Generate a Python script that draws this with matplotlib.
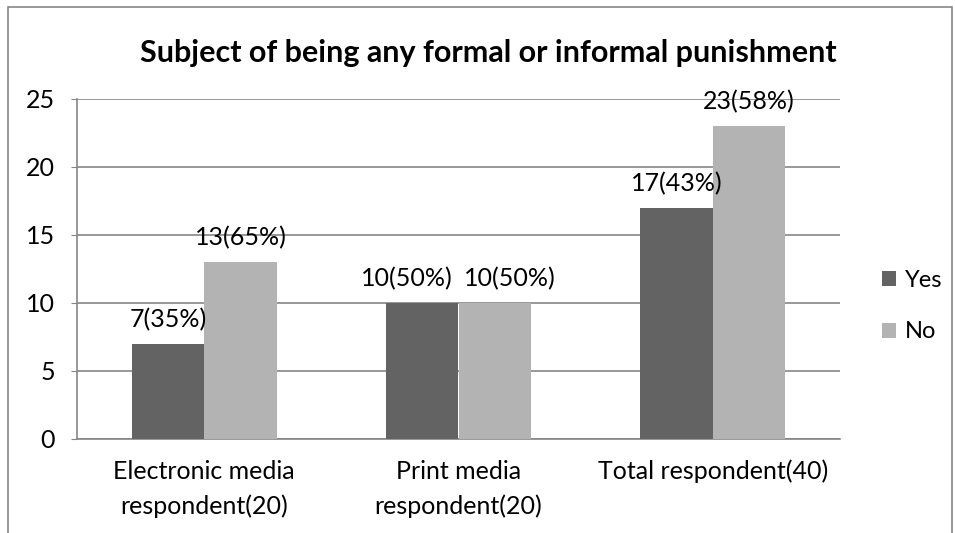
import matplotlib.pyplot as plt
import numpy as np
from matplotlib.patches import Rectangle

categories = ["Electronic media\nrespondent(20)", "Print media\nrespondent(20)", "Total respondent(40)"]
yes_counts = [7, 10, 17]
no_counts = [13, 10, 23]
yes_labels = ["7(35%)", "10(50%)", "17(43%)"]
no_labels = ["13(65%)", "10(50%)", "23(58%)"]
y_ticks = [0, 5, 10, 15, 20, 25]

# sideways nudges (points) keep the two middle labels from colliding
yes_nudge = [0, -11, 0]
no_nudge = [0, 11, 0]

YES_COLOR = "#636363"
NO_COLOR = "#b3b3b3"
GRID_COLOR = "#868686"

plt.rcParams["font.family"] = ["Lato", "DejaVu Sans"]

fig = plt.figure(figsize=(9.55, 5.33), dpi=100)
W, H = 955, 533
ax = fig.add_axes([77 / W, 1 - 439 / H, (840 - 77) / W, (439 - 99) / H])

# outer chart frame (bottom edge falls outside the canvas)
fig.patches.append(Rectangle((8 / W, -0.05), (952 - 8) / W, 1 - 7 / H + 0.05,
                             transform=fig.transFigure, fill=False,
                             edgecolor="#868686", linewidth=1.2))

x = np.arange(len(categories))
bw = 0.285
b_yes = ax.bar(x - bw / 2, yes_counts, bw, color=YES_COLOR, label="Yes", zorder=3)
b_no = ax.bar(x + bw / 2, no_counts, bw, color=NO_COLOR, label="No", zorder=3)

for bars, labels, nudges in ((b_yes, yes_labels, yes_nudge), (b_no, no_labels, no_nudge)):
    for rect, text, dx in zip(bars, labels, nudges):
        ax.annotate(text, (rect.get_x() + rect.get_width() / 2, rect.get_height()),
                    xytext=(dx, 9), textcoords="offset points",
                    ha="center", va="bottom", fontsize=18, zorder=4)

ax.set_xlim(-0.5, len(categories) - 0.5)
ax.set_ylim(0, 25)
ax.set_yticks(y_ticks)
ax.set_xticks(x)
ax.set_xticklabels(categories, fontsize=18, linespacing=1.6)
ax.tick_params(axis="y", labelsize=18, length=4, color=GRID_COLOR, pad=12)
ax.tick_params(axis="x", length=0, pad=15)

ax.grid(axis="y", color=GRID_COLOR, linewidth=1.2, zorder=0)
for side in ("top", "right"):
    ax.spines[side].set_visible(False)
for side in ("left", "bottom"):
    ax.spines[side].set_color(GRID_COLOR)
    ax.spines[side].set_linewidth(1.2)

fig.text(488 / W, 1 - 53 / H,
         "Subject of being any formal or informal punishment",
         ha="center", va="center", fontsize=22, fontweight="bold")

ax.legend(loc="center left", bbox_to_anchor=(861 / W, 1 - 306 / H),
          bbox_transform=fig.transFigure, frameon=False, fontsize=17,
          handlelength=0.6, handleheight=0.6, handletextpad=0.35, labelspacing=1.3)

fig.savefig("out.png", dpi=100)
